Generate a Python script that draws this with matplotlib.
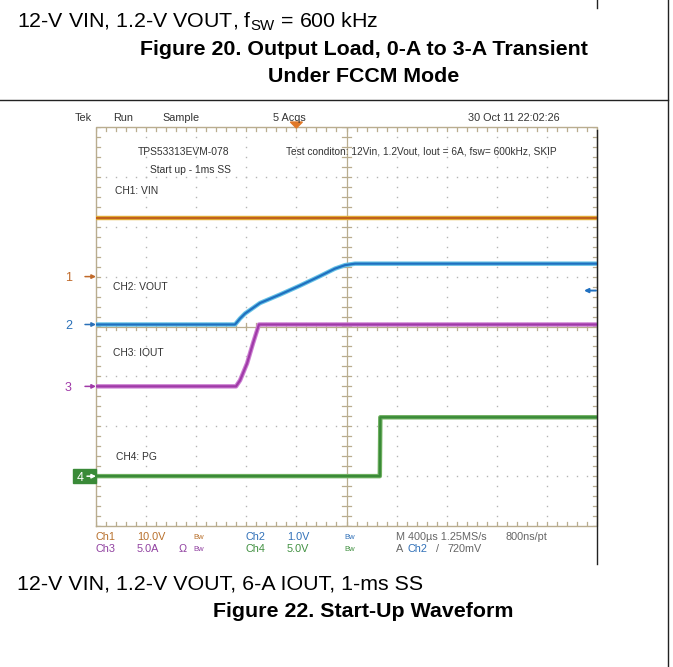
import numpy as np
import matplotlib
matplotlib.use('Agg')
import matplotlib.pyplot as plt
from matplotlib.lines import Line2D
from matplotlib.patches import Rectangle, Polygon, FancyArrowPatch

plt.rcParams['font.family'] = ['Liberation Sans', 'DejaVu Sans']
plt.rcParams['mathtext.fontset'] = 'custom'
plt.rcParams['mathtext.rm'] = 'Liberation Sans'
plt.rcParams['mathtext.it'] = 'Liberation Sans'

W, H, DPI = 673, 667, 100

# ---------------- data ----------------
ms_per_div = 0.4          # M 400us
n_xdiv, n_ydiv = 10, 8
ch_scale = [10.0, 1.0, 5.0, 5.0]      # V/div, V/div, A/div, V/div
ch_offset = [1.0, 0.04, -1.2, -3.0]   # ground marker position (div from centre)

vin_t = [0.0, 4.0]
vin_v = [11.7, 11.7]

vout_t = [0.0, 1.110, 1.150, 1.190, 1.309, 1.469, 1.629, 1.788, 1.908, 1.988, 2.068, 4.0]
vout_v = [0.0, 0.0, 0.12, 0.22, 0.43, 0.60, 0.78, 0.97, 1.12, 1.19, 1.22, 1.22]

iout_t = [0.0, 1.118, 1.150, 1.206, 1.253, 1.301, 4.0]
iout_a = [0.0, 0.0, 0.6, 2.3, 4.3, 6.2, 6.2]

pg_t = [0.0, 2.266, 2.270, 4.0]
pg_v = [0.0, 0.0, 5.9, 5.9]

trig_t = 1.6      # trigger position (ms)
trig_level = 0.72 # V on Ch2

# ---------------- helpers ----------------
def fx(x):
    return x / W

def fy(y):
    return 1 - y / H

fig = plt.figure(figsize=(W / DPI, H / DPI), dpi=DPI)
fig.patch.set_facecolor('white')

def ptext(x, y, s, size=7.8, color='#333333', ha='left', va='baseline', weight='normal'):
    fig.text(fx(x), fy(y), s, fontsize=size, color=color, ha=ha, va=va, fontweight=weight)

def pline(x0, y0, x1, y1, color='black', lw=1.0):
    fig.add_artist(Line2D([fx(x0), fx(x1)], [fy(y0), fy(y1)], color=color, lw=lw,
                          transform=fig.transFigure))

def parrow(x0, x1, y, color, lw=1.1):
    fig.add_artist(FancyArrowPatch((fx(x0), fy(y)), (fx(x1), fy(y)), transform=fig.transFigure,
                                   arrowstyle='-|>', mutation_scale=6, color=color, lw=lw,
                                   shrinkA=0, shrinkB=0))

# ---------------- page text & frame ----------------
ptext(17, 28, r'12-V VIN, 1.2-V VOUT, f$_{\mathrm{SW}}$ = 600 kHz', size=15.4, color='black')
ptext(363.5, 55, 'Figure 20. Output Load, 0-A to 3-A Transient', size=15.4, color='black', ha='center', weight='bold')
ptext(364, 82, 'Under FCCM Mode', size=15.4, color='black', ha='center', weight='bold')
ptext(17, 590, '12-V VIN, 1.2-V VOUT, 6-A IOUT, 1-ms SS', size=15.4, color='black')
ptext(363, 617, 'Figure 22. Start-Up Waveform', size=15.4, color='black', ha='center', weight='bold')

pline(0, 100, 668, 100, color='#222222', lw=1.0)
pline(668, 0, 668, 667, color='#222222', lw=1.0)
pline(597, 0, 597, 8, color='#222222', lw=1.0)
pline(597, 130, 597, 564, color='#222222', lw=1.0)

# ---------------- scope screen ----------------
x0p, y0p, x1p, y1p = 96, 127, 597, 526
ax = fig.add_axes([fx(x0p), fy(y1p), (x1p - x0p) / W, (y1p - y0p) / H])
ax.set_xlim(0, n_xdiv * ms_per_div)
ax.set_ylim(-n_ydiv / 2, n_ydiv / 2)
ax.axis('off')

tan = '#b9ad8f'
dot = '#b5b5b5'
xmax = n_xdiv * ms_per_div
ymax = n_ydiv / 2
# dotted grid
for k in range(1, n_xdiv):
    if k == n_xdiv // 2:
        continue
    ys = np.arange(-ymax, ymax + 1e-9, 0.2)
    ax.plot([k * ms_per_div] * len(ys), ys, ls='none', marker='s', ms=1.0, color=dot, mew=0)
for k in range(1, n_ydiv):
    if k == n_ydiv // 2:
        continue
    xs = np.arange(0, xmax + 1e-9, ms_per_div / 5)
    ax.plot(xs, [k - ymax] * len(xs), ls='none', marker='s', ms=1.0, color=dot, mew=0)

# border & centre lines with ticks
tx = 4 / 50 * ms_per_div   # 4 px in time units
ty = 4 / 50                # 4 px in div units
ax.plot([0, xmax, xmax, 0, 0], [-ymax, -ymax, ymax, ymax, -ymax], color=tan, lw=1.0, clip_on=False)
ax.plot([xmax / 2, xmax / 2], [-ymax, ymax], color=tan, lw=0.9)
ax.plot([0, xmax], [0, 0], color=tan, lw=0.9)
for xv in np.arange(0, xmax + 1e-9, ms_per_div / 5):
    ax.plot([xv, xv], [ymax, ymax - ty], color=tan, lw=0.9)
    ax.plot([xv, xv], [-ymax, -ymax + ty], color=tan, lw=0.9)
    ax.plot([xv, xv], [-ty, ty], color=tan, lw=0.9)
for yv in np.arange(-ymax, ymax + 1e-9, 0.2):
    ax.plot([0, tx], [yv, yv], color=tan, lw=0.9)
    ax.plot([xmax, xmax - tx], [yv, yv], color=tan, lw=0.9)
    ax.plot([xmax / 2 - tx, xmax / 2 + tx], [yv, yv], color=tan, lw=0.9)

# traces
def trace(t, v, ch, c_light, c_dark):
    y = np.asarray(v) / ch_scale[ch] + ch_offset[ch]
    ax.plot(t, y, color=c_light, lw=3.2, solid_joinstyle='round', zorder=5)
    ax.plot(t, y, color=c_dark, lw=1.6, solid_joinstyle='round', zorder=6)

trace(vin_t, vin_v, 0, '#e6b43a', '#c0621e')
trace(vout_t, vout_v, 1, '#66c3e6', '#2070c0')
trace(iout_t, iout_a, 2, '#cc7fd2', '#a03aa8')
trace(pg_t, pg_v, 3, '#6fb060', '#3a8a38')

# trigger position marker
tw = 6 / 50 * ms_per_div
ax.add_patch(Polygon([[trig_t - tw, ymax + 0.1], [trig_t + tw, ymax + 0.1], [trig_t, ymax - 0.02]],
                     closed=True, color='#e07828', clip_on=False, zorder=8))

# channel ground markers (pixel positions from offsets)
def ch_y(ch):
    return 326.5 - ch_offset[ch] * 49.9

# trigger level arrow at right edge
lv_px = 326.5 - (trig_level / ch_scale[1] + ch_offset[1] - 0.04) * 49.9
parrow(596, 584, lv_px, '#2070c0', lw=1.4)

mk_cols = ['#c06a2a', '#2a70b8', '#a03aa8']
for ch in range(3):
    ptext(65, ch_y(ch) + 4.5, str(ch + 1), size=9, color=mk_cols[ch])
    parrow(85, 96, ch_y(ch), mk_cols[ch])
fig.add_artist(Rectangle((fx(73), fy(ch_y(3) + 7)), 23 / W, 14 / H, color='#3a8a38',
                         transform=fig.transFigure))
ptext(77, ch_y(3) + 4.5, '4', size=9, color='white')
parrow(87, 96, ch_y(3), 'white')

# header
ptext(75, 121, 'Tek', size=7.8)
ptext(113, 121, 'Run', size=7.8)
ptext(162, 121, 'Sample', size=7.8)
ptext(273, 121, '5 Acqs', size=7.8)
ptext(468, 121, '30 Oct 11 22:02:26', size=7.8)

# labels inside screen
lab = 7.4
ptext(138, 155, 'TPS53313EVM-078', size=lab)
ptext(150, 173, 'Start up - 1ms SS', size=lab)
ptext(115, 194, 'CH1: VIN', size=lab)
ptext(286, 155, 'Test conditon: 12Vin, 1.2Vout, Iout = 6A, fsw= 600kHz, SKIP', size=7.3)
ptext(113, 290, 'CH2: VOUT', size=lab)
ptext(113, 356, 'CH3: IOUT', size=lab)
ptext(116, 460, 'CH4: PG', size=lab)

# readout
c1, c2, c3, c4, cg = '#b8702c', '#3070b8', '#9040a0', '#409040', '#666666'
ptext(96, 540, 'Ch1', color=c1)
ptext(137, 540, '10.0V', color=c1)
ptext(193, 539, 'Bw', size=5.5, color=c1)
ptext(246, 540, 'Ch2', color=c2)
ptext(287, 540, '1.0V', color=c2)
ptext(344, 539, 'Bw', size=5.5, color=c2)
ptext(396, 540, 'M 400\u00b5s 1.25MS/s', color=cg)
ptext(506, 540, '800ns/pt', color=cg)
ptext(96, 552, 'Ch3', color=c3)
ptext(137, 552, '5.0A', color=c3)
ptext(179, 552, '\u03a9', color=c3)
ptext(193, 551, 'Bw', size=5.5, color=c3)
ptext(246, 552, 'Ch4', color=c4)
ptext(287, 552, '5.0V', color=c4)
ptext(344, 551, 'Bw', size=5.5, color=c4)
ptext(396, 552, 'A', color=cg)
ptext(408, 552, 'Ch2', color=c2)
ptext(436, 552, '/', color=cg)
ptext(447, 552, '720mV', color=cg)

fig.savefig('out.png', dpi=DPI)
